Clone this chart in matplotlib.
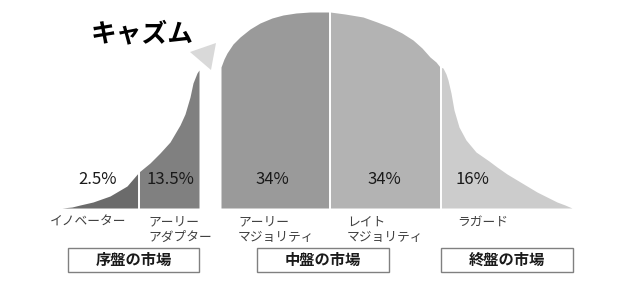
"""
Chasm chart (innovation adoption curve) redrawn with matplotlib.
"""
import numpy as np
import matplotlib.pyplot as plt
from matplotlib.patches import Polygon, Rectangle

plt.rcParams['font.family'] = ['Noto Sans CJK JP', 'DejaVu Sans']

# -- Data: curve heights (x in px, h above baseline) --
left_x = [62, 72, 80, 93, 110, 127, 139, 150, 160, 170, 180, 185, 190, 193,
          197, 199]
left_h = [0, 1, 3, 6, 12, 22, 36, 45, 55, 66, 83, 94, 111, 125, 135, 138]

mid_x = [221, 221, 224, 227, 233, 240, 250, 260, 272, 283, 296, 310, 320, 330,
         345, 363, 377, 390, 402, 413, 422, 430, 436, 440]
mid_h = [0, 141, 149, 155, 164, 171, 179, 185, 190, 193, 195, 196, 196, 196,
         194, 191, 186, 181, 175, 168, 160, 151, 146, 141]

right_x = [440, 443, 446, 448, 451, 454, 459, 466, 476, 489, 497, 507, 517,
           527, 537, 547, 557, 565, 572]
right_h = [141, 140, 134, 128, 115, 98, 81, 68, 56, 47, 41, 34, 28, 22, 16,
           11, 6, 3, 0]

shares = ['2.5%', '13.5%', '34%', '34%', '16%']
share_x = [98, 170, 272, 384, 472]
seg_colors = ['#6b6b6b', '#808080', '#9a9a9a', '#b3b3b3', '#cccccc']

groups = [['イノベーター'], ['アーリー', 'アダプター'], ['アーリー', 'マジョリティ'],
          ['レイト', 'マジョリティ'], ['ラガード']]
group_x = [50, 148, 238, 347, 457]

markets = ['序盤の市場', '中盤の市場', '終盤の市場']
market_x0 = [68, 257, 441]
market_x1 = [199, 389, 573]

chasm_tri = [(190, 156), (216, 165), (211, 138)]


def main():
    fig = plt.figure(figsize=(6.33, 2.83), dpi=100)
    ax = fig.add_axes([0, 0, 1, 1])
    ax.set_xlim(0, 633)
    ax.set_ylim(-75, 208)
    ax.axis('off')

    lx, lh = np.array(left_x), np.array(left_h)
    mx, mh = np.array(mid_x), np.array(mid_h)
    rx, rh = np.array(right_x), np.array(right_h)

    # -- Curve segments --
    ax.fill_between(lx, 0, lh, where=lx <= 139, color=seg_colors[0], lw=0)
    ax.fill_between(lx, 0, lh, where=lx >= 139, color=seg_colors[1], lw=0)
    ax.fill_between(mx, 0, mh, where=mx <= 330, color=seg_colors[2], lw=0)
    ax.fill_between(mx, 0, mh, where=mx >= 330, color=seg_colors[3], lw=0)
    ax.fill_between(rx, 0, rh, color=seg_colors[4], lw=0)
    for xd in [139, 330, 440.5]:
        ax.plot([xd, xd], [0, 200], color='white', lw=1.4)

    # -- Chasm marker and title --
    ax.add_patch(Polygon(chasm_tri, closed=True, color='#d9d9d9', lw=0))
    ax.text(142, 174.5, 'キャズム', fontsize=18.5, fontweight='bold',
            ha='center', va='center', color='black')

    # -- Percent labels --
    for s, x in zip(shares, share_x):
        ax.text(x, 28, s, fontsize=12, ha='center', va='center', color='#1a1a1a')

    # -- Group names --
    for lines, x in zip(groups, group_x):
        for i, line in enumerate(lines):
            ax.text(x, -14 - 15 * i, line, fontsize=9.2, ha='left', va='center',
                    color='#404040')

    # -- Market boxes --
    for name, x0, x1 in zip(markets, market_x0, market_x1):
        ax.add_patch(Rectangle((x0, -64), x1 - x0, 24, fill=False,
                               edgecolor='#808080', lw=1))
        ax.text((x0 + x1) / 2, -52, name, fontsize=11, fontweight='bold',
                ha='center', va='center', color='#1a1a1a')

    fig.savefig('out.png', dpi=100)


if __name__ == "__main__":
    main()
